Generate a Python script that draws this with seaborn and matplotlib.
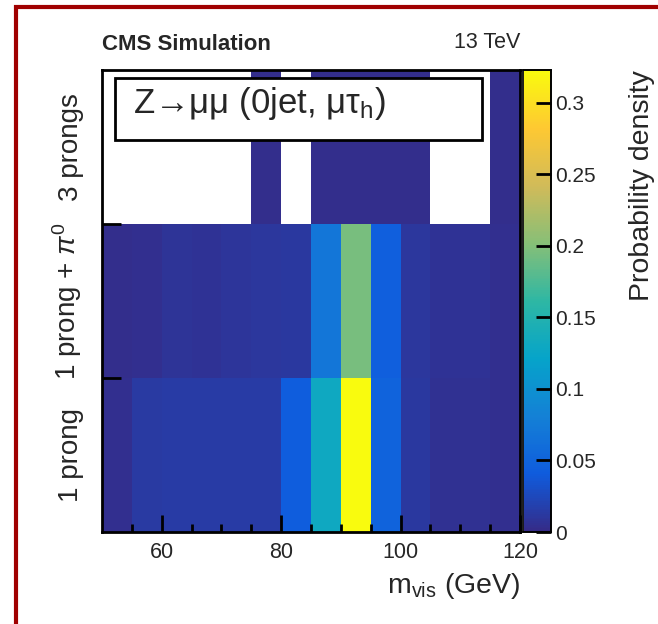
import numpy as np
import pandas as pd
import matplotlib
matplotlib.use("Agg")
import matplotlib.pyplot as plt
from matplotlib.colors import LinearSegmentedColormap
from matplotlib.patches import Rectangle
from matplotlib.ticker import FixedLocator
import seaborn as sns

sns.set_style("white")
plt.rcParams['font.family'] = ['Liberation Sans', 'DejaVu Sans']
plt.rcParams['mathtext.fontset'] = 'custom'
plt.rcParams['mathtext.rm'] = 'Liberation Sans'
plt.rcParams['mathtext.it'] = 'Liberation Sans:italic'
plt.rcParams['mathtext.bf'] = 'Liberation Sans:bold'
plt.rcParams['axes.axisbelow'] = False
plt.rcParams['xtick.bottom'] = True
plt.rcParams['ytick.left'] = True
plt.rcParams['xtick.minor.visible'] = True

# ---- data ----
bin_edges = [50, 55, 60, 65, 70, 75, 80, 85, 90, 95, 100, 105, 110, 115, 120]
categories = ["3 prongs", "1 prong + $\\pi^{0}$", "1 prong"]
three_prongs = [np.nan, np.nan, np.nan, np.nan, np.nan, 0.003, np.nan, 0.003, 0.003, 0.003, 0.003, np.nan, np.nan, 0.003]
one_prong_pi0 = [0.003, 0.004, 0.008, 0.007, 0.010, 0.011, 0.012, 0.070, 0.195, 0.045, 0.011, 0.007, 0.007, 0.005]
one_prong = [0.004, 0.013, 0.014, 0.014, 0.015, 0.015, 0.042, 0.130, 0.323, 0.048, 0.012, 0.006, 0.006, 0.005]
major_ticks = [60, 80, 100, 120]
cbar_ticks = [0, 0.05, 0.1, 0.15, 0.2, 0.25, 0.3]
zmax = 0.323

# ROOT kBird palette
stops = [0.0, 0.125, 0.25, 0.375, 0.5, 0.625, 0.75, 0.875, 1.0]
red = [0.2082, 0.0592, 0.0780, 0.0232, 0.1802, 0.5301, 0.8186, 0.9956, 0.9764]
green = [0.1664, 0.3599, 0.5041, 0.6419, 0.7178, 0.7492, 0.7328, 0.7862, 0.9832]
blue = [0.5293, 0.8684, 0.8385, 0.7914, 0.6425, 0.4662, 0.3499, 0.1968, 0.0539]
kbird = LinearSegmentedColormap.from_list("kBird", list(zip(stops, zip(red, green, blue))), N=256)

labels = [f"{a}-{b}" for a, b in zip(bin_edges[:-1], bin_edges[1:])]
df = pd.DataFrame([three_prongs, one_prong_pi0, one_prong], index=categories, columns=labels)

W, H = 658, 624
fig = plt.figure(figsize=(W / 100, H / 100), dpi=100)
fig.patch.set_facecolor("white")

def fx(px):
    return px / W

def fy(py):
    return 1 - py / H

ax = fig.add_axes([fx(102), fy(532), fx(520) - fx(102), fy(70) - fy(532)])
cax = fig.add_axes([fx(523), fy(532), fx(551) - fx(523), fy(70) - fy(532)])

sns.heatmap(df, ax=ax, cbar_ax=cax, cmap=kbird, vmin=0, vmax=zmax,
            mask=df.isna(), linewidths=0)
ax.set_axisbelow(False)
cax.set_axisbelow(False)

nb = len(bin_edges) - 1
def xpos(v):
    return (v - bin_edges[0]) / (bin_edges[1] - bin_edges[0])

ax.set_xlim(0, nb)
ax.set_ylim(3, 0)
ax.xaxis.set_major_locator(FixedLocator([xpos(v) for v in major_ticks]))
ax.set_xticklabels([str(v) for v in major_ticks], rotation=0, fontsize=15.5)
ax.xaxis.set_minor_locator(FixedLocator([xpos(v) for v in bin_edges[1:-1] if v not in major_ticks]))
ax.tick_params(axis='x', which='major', direction='in', length=12, width=2, pad=7,
               bottom=True, top=False, color='black')
ax.tick_params(axis='x', which='minor', direction='in', length=6, width=2,
               bottom=True, top=False, color='black')

ax.yaxis.set_major_locator(FixedLocator([1, 2]))
ax.set_yticklabels([])
ax.yaxis.set_minor_locator(FixedLocator([0.5, 1.5, 2.5]))
ax.set_yticklabels(categories, minor=True, rotation=90, va='center', fontsize=20)
ax.tick_params(axis='y', which='major', direction='in', length=14, width=2, left=True, color='black')
ax.tick_params(axis='y', which='minor', length=0, pad=13, left=True)

for s in ax.spines.values():
    s.set_visible(True)
    s.set_linewidth(2)
    s.set_color('black')

ax.set_xlabel("m$_{\\mathrm{vis}}$ (GeV)", fontsize=20.5, loc='right', labelpad=6)
ax.set_ylabel("")

cax.set_ylim(0, zmax)
cax.yaxis.set_major_locator(FixedLocator(cbar_ticks))
cax.yaxis.set_minor_locator(FixedLocator([]))
cax.set_yticklabels(["0", "0.05", "0.1", "0.15", "0.2", "0.25", "0.3"], fontsize=15)
cax.tick_params(axis='y', direction='in', length=11, width=2, right=True, left=False, pad=3,
                color='black')
for s in cax.spines.values():
    s.set_visible(True)
    s.set_linewidth(1.2)
    s.set_color('black')
cax.spines['left'].set_color('#bbbbbb')
cax.set_ylabel("Probability density", fontsize=20.5, labelpad=24, loc='top')
cax.yaxis.set_label_position('right')

fig.text(fx(102), fy(45), "CMS Simulation", fontsize=16, fontweight='bold', va='center', ha='left')
fig.text(fx(520), fy(42), "13 TeV", fontsize=15.5, va='center', ha='right')

# label box
box = Rectangle((fx(115), fy(140)), fx(482) - fx(115), fy(78) - fy(140), transform=fig.transFigure,
                facecolor='white', edgecolor='black', linewidth=2, zorder=5)
fig.patches.append(box)
fig.text(fx(133), fy(103), "Z\u2192\u03bc\u03bc (0jet, \u03bc\u03c4$_{\\mathrm{h}}$)", fontsize=25,
         va='center', ha='left', zorder=6)

# red frame
frame = Rectangle((fx(15.5), -0.1), 1.2, fy(6.5) + 0.1, transform=fig.transFigure,
                  facecolor='none', edgecolor='#a00000', linewidth=3, zorder=10)
fig.patches.append(frame)

fig.savefig("out.png", dpi=100)
